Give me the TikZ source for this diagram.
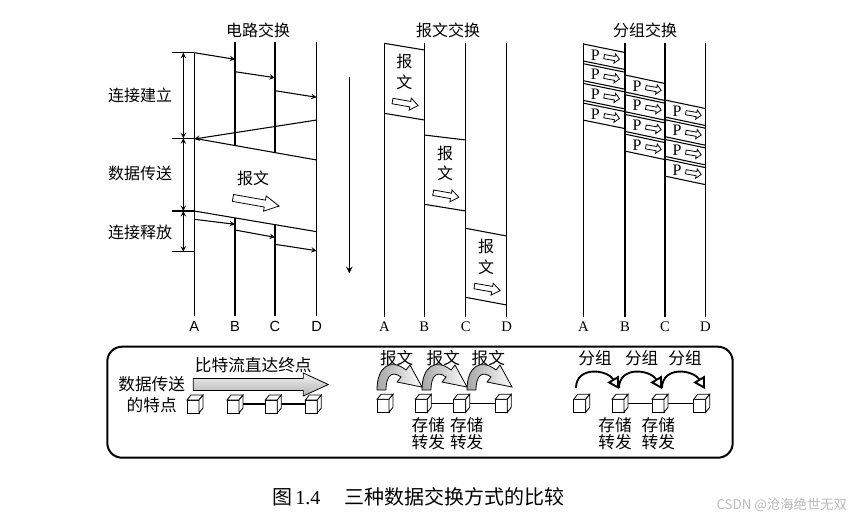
\documentclass[tikz,border=0pt]{standalone}
\usepackage{fontspec}
\setmainfont{Liberation Serif}
\newfontfamily\cjk{Noto Sans CJK SC}
\newfontfamily\arial{Liberation Sans}
\usepackage{tikz}
\usetikzlibrary{arrows, positioning, calc, shapes}
\tikzstyle{arrow} = [->,>=stealth, line width=0.8pt]
\tikzstyle{zh} = [font=\cjk\fontsize{12}{14}\selectfont, inner sep=1pt]
\tikzstyle{zhm} = [font=\cjk\fontsize{12.5}{14}\selectfont, inner sep=1pt]
\tikzstyle{lbl} = [font=\fontsize{11}{13}\selectfont]
\tikzstyle{lblsans} = [font=\arial\fontsize{11}{13}\selectfont]
\tikzstyle{pkt} = [font=\fontsize{12}{13}\selectfont, inner sep=0pt]
\tikzstyle{pktarc} = [line width=1.4pt, -open triangle 60]
\tikzset{netcube/.pic={
    \draw[fill=white, line width=0.6pt] (-8,-4) rectangle (4,9);
    \draw[fill=white, line width=0.6pt] (-8,-4) -- (-4,-9) -- (8,-9) -- (4,-4) -- cycle;
    \draw[fill=white, line width=0.6pt] (4,-4) -- (8,-9) -- (8,4) -- (4,9) -- cycle;
}}
\tikzset{blockarr/.pic={
    \draw[fill=white, line width=0.6pt] (-13,-2.5) -- (5,-2.5) -- (5,-5.5) -- (13,0) -- (5,5.5) -- (5,2.5) -- (-13,2.5) -- cycle;
}}

\begin{document}
\begin{tikzpicture}[x=0.75pt, y=-0.75pt, line width=0.8pt]
    \useasboundingbox (0,0) rectangle (856,522);

    % 标题
    \node (tc) [zh] at (258,30) {电路交换};
    \node (tm) [zh] at (448,30) {报文交换};
    \node (tp) [zh] at (645,30) {分组交换};

    % 电路交换
    \foreach \n/\x in {A/194.3,B/235,C/275,D/316.7}
        \node (c\n) [lblsans] at (\x,326) {\n};
    \coordinate (cAt) at (194.3,52.7);
    \coordinate (cBt) at (235,42);
    \coordinate (cCt) at (275,42);
    \coordinate (cDt) at (316.7,42);
    \coordinate (upA) at (194.3,138.3);
    \coordinate (upB) at (235,145.5);
    \coordinate (upC) at (275,152.6);
    \coordinate (upD) at (316.7,160);
    \coordinate (loA) at (194.3,211);
    \coordinate (loB) at (235,218.3);
    \coordinate (loC) at (275,225.2);
    \coordinate (loD) at (316.7,231.7);
    \draw (cAt) -- (cA.north);
    \draw (cBt) -- (upB) (loB) -- (cB.north);
    \draw (cCt) -- (upC) (loC) -- (cC.north);
    \draw (cDt) -- (cD.north);
    \draw (upA) -- (upD) (loA) -- (loD);

    % 建立与释放
    \foreach \i/\xa/\ya/\xb/\yb in {1/194.3/52.7/235/59.3, 2/235/71.7/275/77.7, 3/275/90.7/316.7/97.3, 4/316.7/120/194.3/139, 5/194.3/219.3/235/224.3, 6/235/230/275/237.3, 7/275/244.3/316.7/250.7} {
        \coordinate (s\i) at (\xa,\ya);
        \coordinate (e\i) at (\xb,\yb);
        \draw [arrow] (s\i) -- (e\i);
    }

    % 时间段
    \foreach \i/\y in {1/52.7, 2/138.3, 3/211, 4/251.7} {
        \coordinate (k\i) at (171.7,\y);
        \coordinate (b\i) at (183.3,\y);
        \draw (k\i) -- (k\i -| cAt);
    }
    \draw [arrow, <->] (b1) -- (b2);
    \draw [arrow, <->] (b2) -- (b3);
    \draw [arrow, <->] (b3) -- (b4);
    \node (l1) [zh] at (140,95) {连接建立};
    \node (l2) [zh] at (140,173) {数据传送};
    \node (l3) [zh] at (140,232) {连接释放};

    \node (cmsg) [zh] at (253,178) {报文};
    \pic (carr) [rotate=-10, xscale=1.8, yscale=1.4] at (256,202) {blockarr};

    % 时间
    \coordinate (time1) at (349.3,76.7);
    \coordinate (time2) at (349.3,273.3);
    \draw [arrow, line width=1.2pt] (time1) -- (time2);

    % 报文交换
    \foreach \n/\x in {A/384.3,B/424.3,C/465.7,D/506.7} {
        \node (m\n) [lbl] at (\x,327) {\n};
        \coordinate (m\n-t) at (\x,43.3);
        \draw (m\n-t) -- (m\n.north);
    }
    \foreach \i/\xl/\xr/\ya/\yb/\yc/\yd in {1/384.3/424.3/43.3/50/113.3/120, 2/424.3/465.7/135/140/204.3/211, 3/465.7/506.7/228.3/236/297.3/305} {
        \coordinate (m\i a) at (\xl,\ya);
        \coordinate (m\i b) at (\xr,\yb);
        \coordinate (m\i c) at (\xl,\yc);
        \coordinate (m\i d) at (\xr,\yd);
        \draw (m\i a) -- (m\i b) (m\i c) -- (m\i d);
        \node (mb\i) [zh] at ({(\xl+\xr)/2},{\ya+18.4}) {报};
        \node (mw\i) [zh] at ({(\xl+\xr)/2},{\ya+38.6}) {文};
        \pic (ma\i) [rotate=-10, yscale=1.1] at ({(\xl+\xr)/2+1},{\ya+60}) {blockarr};
    }

    % 分组交换
    \foreach \n/\x in {A/583.3,B/625,C/665,D/705.3} {
        \node (p\n) [lbl] at (\x,327) {\n};
        \coordinate (p\n-t) at (\x,43.3);
        \draw (p\n-t) -- (p\n.north);
    }
    \foreach \h/\xl/\xr/\yo in {0/583.3/625/44, 1/625/665/75, 2/665/705.3/100} {
        \foreach \k in {0,...,3} {
            \pgfmathsetmacro\yt{\yo+19.7*\k}
            \coordinate (q\h\k a) at (\xl,\yt);
            \coordinate (q\h\k b) at (\xr,\yt+8.5);
            \coordinate (q\h\k c) at (\xl,\yt+17);
            \coordinate (q\h\k d) at (\xr,\yt+25.5);
            \draw (q\h\k a) -- (q\h\k b) (q\h\k c) -- (q\h\k d);
            \node (qp\h\k) [pkt] at (\xl+12,\yt+11) {P};
            \pic (qa\h\k) [rotate=-10, xscale=0.6, yscale=0.85] at (\xl+28.5,\yt+14) {blockarr};
        }
    }

    % 数据传送的特点
    \draw [line width=1.5pt, rounded corners=11pt] (107.3,346.7) rectangle (732.7,457.7);
    \node (f1) [zhm] at (151.7,384.3) {数据传送};
    \node (f2) [zhm] at (151.7,405) {的特点};
    \node (f3) [zhm] at (253.3,365) {比特流直达终点};
    \shadedraw [top color=gray!10, bottom color=gray!60, line width=0.6pt] (193.3,378.5) -- (303.3,378.5) -- (303.3,373) -- (328.3,384.5) -- (303.3,396) -- (303.3,390.5) -- (193.3,390.5) -- cycle;

    % 节点
    \foreach \g/\y/\xa/\xb/\xc/\xd in {c/404/195/235/273.3/313.3, m/403.3/385/423.3/461.7/503.3, p/403.3/581.7/620/660/701.7} {
        \foreach \i/\x in {1/\xa,2/\xb,3/\xc,4/\xd}
            \coordinate (\g u\i) at (\x,\y);
        \draw ($(\g u2)+(8,0)$) -- ($(\g u3)+(-8,0)$) ($(\g u3)+(8,0)$) -- ($(\g u4)+(-8,0)$);
        \foreach \i in {1,...,4}
            \pic at (\g u\i) {netcube};
    }

    % 报文: 存储转发
    \foreach \i/\x in {1/396.7,2/443.3,3/488.3}
        \node (mt\i) [zhm] at (\x,358.3) {报文};
    \foreach \i/\x in {1/377,2/422,3/467} {
        \begin{scope}[shift={(\x,390)}]
            \shadedraw [left color=gray!70, right color=white, line width=0.6pt] (0,0) .. controls (0,-24) and (14,-32) .. (29,-20) -- (33,-25) -- (45,-3) -- (20,-8) -- (24,-13) .. controls (16,-19) and (9,-16) .. (9,0) -- cycle;
        \end{scope}
    }
    \foreach \i/\x in {1/428.3,2/466.7} {
        \node (ms\i) [zhm] at (\x,425) {存储};
        \node (mf\i) [zhm] at (\x,441.7) {转发};
    }

    % 分组: 存储转发
    \foreach \i/\x in {1/595,2/641.7,3/685}
        \node (pt\i) [zhm] at (\x,357.7) {分组};
    \foreach \i/\x in {1/576,2/619,3/662} {
        \coordinate (pr\i) at (\x,388);
        \coordinate (ps\i) at (\x+43,389);
        \draw [pktarc] (pr\i) .. controls +(0,-22) and +(-12,-20) .. (ps\i);
    }
    \foreach \i/\x in {1/615,2/658.3} {
        \node (pv\i) [zhm] at (\x,425) {存储};
        \node (pf\i) [zhm] at (\x,441.7) {转发};
    }

    % 图题
    \node (cap) [font=\fontsize{15}{18}\selectfont] at (418.3,496.7) {{\cjk 图}\,1.4\hspace{18pt}{\cjk 三种数据交换方式的比较}};
    \node (wm) [font=\cjk\fontsize{10}{12}\selectfont, text=gray!55, anchor=east] at (852,505) {CSDN @沧海绝世无双};
\end{tikzpicture}
\end{document}
